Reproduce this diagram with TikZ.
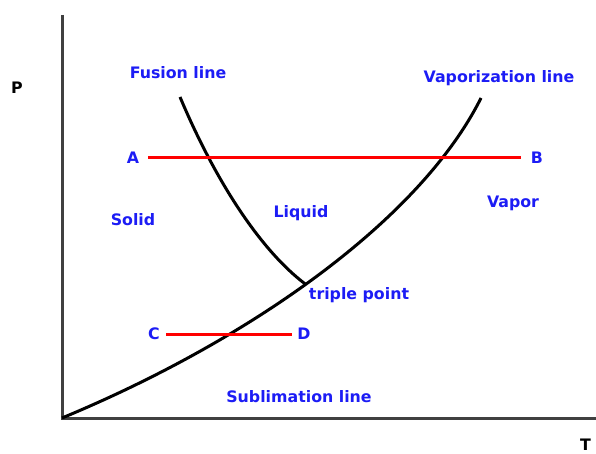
\documentclass[tikz,border=0pt]{standalone}
\usepackage{fontspec}
\setmainfont{DejaVu Sans}
\definecolor{lblblue}{RGB}{28,28,245}
\begin{document}
\begin{tikzpicture}[x=1pt,y=-1pt,
  lbl/.style={font=\bfseries\fontsize{15.8}{18}\selectfont, text=lblblue, inner sep=0pt},
  axlbl/.style={font=\bfseries\fontsize{15.8}{18}\selectfont, text=black, inner sep=0pt},
  curve/.style={line width=3pt, black},
  axis/.style={line width=3pt, black!75},
  redline/.style={line width=3pt, red}]
\useasboundingbox (0,0) rectangle (596,454);
\coordinate (o) at (62,418);
\coordinate (ytop) at (62,15);
\coordinate (xend) at (600,418);
\draw[axis] (ytop) -- (o) -- (xend);
\coordinate (vs) at (62,418);
\coordinate (ve) at (481,98);
\draw[curve] (vs) .. controls (250,340) and (420,220) .. coordinate[pos=0.47] (tp) (ve);
\coordinate (fs) at (180,97);
\draw[curve] (fs) .. controls (215,180) and (260,250) .. (tp);
\coordinate (a) at (148,158);
\coordinate (b) at (521,158);
\coordinate (c) at (166,334);
\coordinate (d) at (292,334);
\draw[redline] (a) -- (b);
\draw[redline] (c) -- (d);
\node[axlbl] (P) at (17,88) {P};
\node[axlbl, anchor=south west] (T) at (580,451) {T};
\node[lbl] (fus) at (178,73) {Fusion line};
\node[lbl] (vap) at (499,78) {Vaporization line};
\node[lbl] (A) at (133,158) {A};
\node[lbl] (B) at (537,158) {B};
\node[lbl] (solid) at (133,220) {Solid};
\node[lbl] (liq) at (301,213) {Liquid};
\node[lbl] (vapor) at (513,203) {Vapor};
\node[lbl] (trip) at (359,295) {triple point};
\node[lbl] (C) at (154,334) {C};
\node[lbl] (D) at (304,334) {D};
\node[lbl] (sub) at (299,397) {Sublimation line};
\end{tikzpicture}
\end{document}
